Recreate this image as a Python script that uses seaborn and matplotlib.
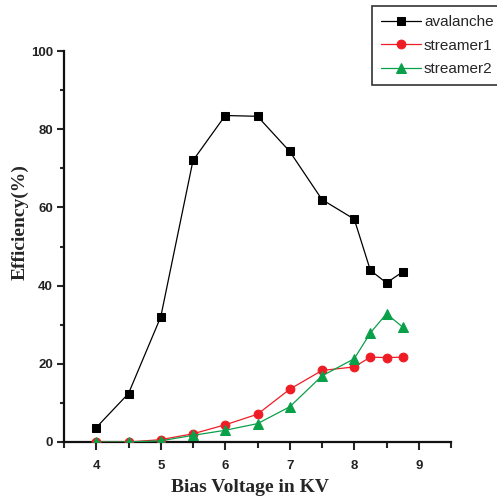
import matplotlib
matplotlib.use("Agg")
import matplotlib.pyplot as plt
import seaborn as sns
import pandas as pd
from matplotlib.ticker import MultipleLocator

voltage = [4, 4.5, 5, 5.5, 6, 6.5, 7, 7.5, 8, 8.25, 8.5, 8.75]
avalanche = [3.7, 12.4, 32.0, 72.0, 83.5, 83.3, 74.3, 62.0, 57.0, 43.9, 40.7, 43.5]
streamer1 = [0.0, 0.0, 0.6, 2.1, 4.4, 7.1, 13.5, 18.3, 19.2, 21.7, 21.6, 21.7]
streamer2 = [0.0, 0.0, 0.3, 1.7, 3.0, 4.7, 9.0, 16.9, 21.3, 27.9, 32.8, 29.4]
series_names = ["avalanche", "streamer1", "streamer2"]
x_ticks = [4, 5, 6, 7, 8, 9]
y_ticks = [0, 20, 40, 60, 80, 100]

sns.set_style("ticks")
plt.rcParams["font.family"] = ["Liberation Sans", "DejaVu Sans"]

fig = plt.figure(figsize=(4.97, 4.99), dpi=100)
ax = fig.add_axes([64/497, 1-442/499, (451-64)/497, (442-51)/499])

df = pd.DataFrame({"V": voltage, "avalanche": avalanche,
                   "streamer1": streamer1, "streamer2": streamer2})
styles = {"avalanche": ("black", "s", 5.2),
          "streamer1": ("#ee1c25", "o", 6.3),
          "streamer2": ("#0aa04a", "^", 6.8)}
for name in series_names:
    c, m, ms = styles[name]
    sns.lineplot(data=df, x="V", y=name, ax=ax, color=c, marker=m,
                 markersize=ms, markeredgecolor=c, linewidth=0.9, label=name,
                 zorder=3 if name != "avalanche" else 2)

ax.set_xlim(3.5, 9.5)
ax.set_ylim(0, 100)
ax.set_xticks(x_ticks)
ax.set_yticks(y_ticks)
ax.xaxis.set_minor_locator(MultipleLocator(0.5))
ax.yaxis.set_minor_locator(MultipleLocator(10))
for s in ["top", "right"]:
    ax.spines[s].set_visible(False)
for s in ["left", "bottom"]:
    ax.spines[s].set_linewidth(1.6)
    ax.spines[s].set_color("#111111")
ax.tick_params(axis="x", which="major", length=6, width=1.5, pad=7, direction="out")
ax.tick_params(axis="x", which="minor", length=4, width=1.5, direction="out")
ax.tick_params(axis="y", which="major", length=5, width=1.5, pad=3, direction="out")
ax.tick_params(axis="y", which="minor", length=3, width=1.5, direction="out")
for lab in ax.get_xticklabels() + ax.get_yticklabels():
    lab.set_fontweight("bold")
    lab.set_fontsize(9.5)
    lab.set_color("#222222")

ax.set_xlabel("Bias Voltage in KV", fontfamily="Liberation Serif",
              fontweight="bold", fontsize=14)
ax.set_ylabel("Efficiency(%)", fontfamily="Liberation Serif",
              fontweight="bold", fontsize=14)
ax.xaxis.set_label_coords(0.48, -0.094)
ax.yaxis.set_label_coords(-0.092, 0.563)

ax.get_legend().remove()
handles, labels = ax.get_legend_handles_labels()
leg = fig.legend(handles, labels, loc="upper left",
                 bbox_to_anchor=(372/497, 1-6/499),
                 prop={"family": ["Liberation Sans"], "size": 11},
                 frameon=True, fancybox=False, framealpha=1, edgecolor="#333333",
                 handlelength=2.6, handletextpad=0.2, labelspacing=0.62,
                 borderpad=0.6, borderaxespad=0)
leg.get_frame().set_linewidth(1.2)

fig.savefig("out.png", dpi=100)
